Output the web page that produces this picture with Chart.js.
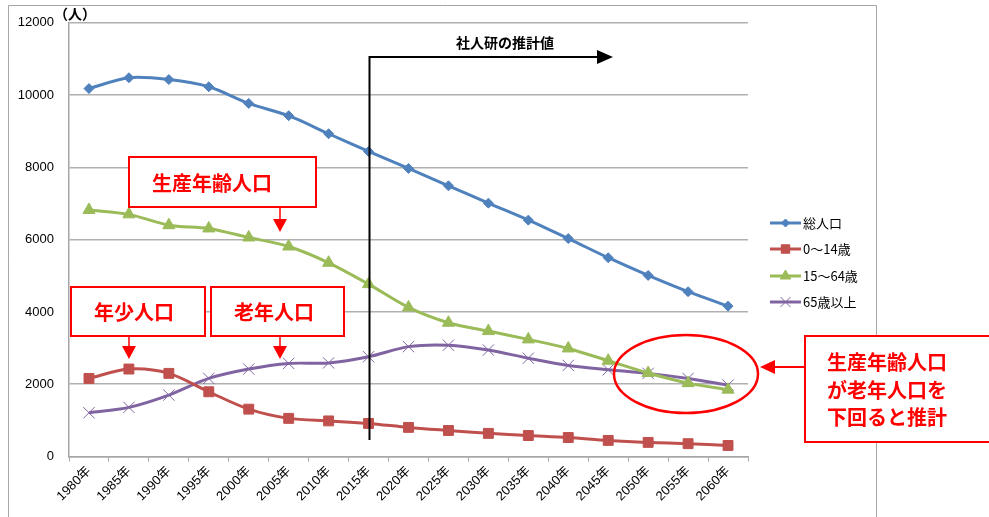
<!DOCTYPE html>
<html lang="ja">
<head>
<meta charset="UTF-8">
<title>人口推移と推計</title>
<script src="https://cdn.jsdelivr.net/npm/chart.js"></script>
<style>
    html, body { margin: 0; padding: 0; background: #fff; }
    #wrap { width: 989px; height: 517px; position: relative; }
</style>
</head>
<body>
<div id="wrap"><canvas id="popChart" width="989" height="517"></canvas></div>
<script>
// 年次
const years = ['1980年', '1985年', '1990年', '1995年', '2000年', '2005年', '2010年', '2015年', '2020年',
    '2025年', '2030年', '2035年', '2040年', '2045年', '2050年', '2055年', '2060年'];

// 人口（人）
const totalPop = [10180, 10480, 10430, 10230, 9770, 9430, 8930, 8440, 7970, 7490, 7010, 6540, 6030, 5500, 5010, 4560, 4160];
const youngPop = [2160, 2420, 2300, 1790, 1310, 1055, 985, 915, 805, 720, 640, 580, 525, 445, 390, 355, 305];
const workPop = [6820, 6700, 6400, 6310, 6060, 5810, 5360, 4770, 4125, 3700, 3470, 3240, 2990, 2650, 2310, 2030, 1850];
const elderPop = [1210, 1360, 1700, 2160, 2420, 2575, 2590, 2760, 3040, 3080, 2945, 2720, 2520, 2400, 2300, 2160, 1975];

const seriesNames = ['総人口', '0～14歳', '15～64歳', '65歳以上'];
const yTicks = [0, 2000, 4000, 6000, 8000, 10000, 12000];

const JP = '"Noto Sans CJK JP", sans-serif';
const NUM = '"Liberation Sans", "Noto Sans CJK JP", sans-serif';

function series(label, data, color, style, radius, pointBorder) {
    return {
        label: label,
        data: data,
        borderColor: color,
        backgroundColor: color,
        borderWidth: 3,
        tension: 0.3,
        pointStyle: style,
        pointRadius: radius,
        pointBackgroundColor: color,
        pointBorderColor: pointBorder || color,
        pointBorderWidth: 1
    };
}

// 枠線・注記・凡例
const annotations = {
    id: 'annotations',
    afterDraw(chart) {
        const ctx = chart.ctx;
        const x = chart.scales.x;
        ctx.save();

        // グラフ外枠
        ctx.strokeStyle = '#a6a6a6';
        ctx.lineWidth = 1;
        ctx.beginPath();
        ctx.moveTo(8.5, 517);
        ctx.lineTo(8.5, 5.5);
        ctx.lineTo(876.5, 5.5);
        ctx.lineTo(876.5, 517);
        ctx.stroke();

        // 単位
        ctx.fillStyle = '#000';
        ctx.font = 'bold 14px ' + JP;
        ctx.textAlign = 'left';
        ctx.textBaseline = 'middle';
        ctx.fillText('（人）', 54, 14);

        // 推計値の範囲
        const xs = Math.round(x.getPixelForValue(7)) + 0.5;
        ctx.strokeStyle = '#000';
        ctx.lineWidth = 2;
        ctx.beginPath();
        ctx.moveTo(xs, 440);
        ctx.lineTo(xs, 57);
        ctx.lineTo(598, 57);
        ctx.stroke();
        ctx.fillStyle = '#000';
        ctx.beginPath();
        ctx.moveTo(597, 50);
        ctx.lineTo(613, 57);
        ctx.lineTo(597, 64);
        ctx.closePath();
        ctx.fill();
        ctx.font = 'bold 14px ' + JP;
        ctx.textAlign = 'center';
        ctx.fillText('社人研の推計値', 505, 43);

        // 赤枠の吹き出し
        const red = '#ff0000';
        function box(l, t, r, b, lines, cx) {
            ctx.fillStyle = '#fff';
            ctx.fillRect(l, t, r - l, b - t);
            ctx.strokeStyle = red;
            ctx.lineWidth = 2;
            ctx.strokeRect(l, t, r - l, b - t);
            ctx.fillStyle = red;
            ctx.font = 'bold 20px ' + JP;
            ctx.textAlign = lines.length > 1 ? 'left' : 'center';
            ctx.textBaseline = 'middle';
            lines.forEach(function (s) { ctx.fillText(s[0], cx, s[1]); });
        }
        function downArrow(ax, y0, y1) {
            ctx.strokeStyle = red;
            ctx.fillStyle = red;
            ctx.lineWidth = 1.5;
            ctx.beginPath();
            ctx.moveTo(ax, y0);
            ctx.lineTo(ax, y1 - 10);
            ctx.stroke();
            ctx.beginPath();
            ctx.moveTo(ax - 7, y1 - 13);
            ctx.lineTo(ax + 7, y1 - 13);
            ctx.lineTo(ax, y1);
            ctx.closePath();
            ctx.fill();
        }
        box(129, 157, 316, 207, [['生産年齢人口', 183]], 212);
        downArrow(280, 207, 232);
        box(71, 287, 205, 336, [['年少人口', 312]], 134);
        downArrow(129, 336, 359);
        box(211, 287, 344, 336, [['老年人口', 312]], 274);
        downArrow(280, 336, 359);

        // 逆転箇所の楕円
        ctx.strokeStyle = red;
        ctx.lineWidth = 2.5;
        ctx.beginPath();
        ctx.ellipse(686, 374, 72, 39, 0, 0, Math.PI * 2);
        ctx.stroke();

        box(805, 336, 990, 442, [['生産年齢人口', 362], ['が老年人口を', 390], ['下回ると推計', 417]], 827);
        ctx.strokeStyle = red;
        ctx.fillStyle = red;
        ctx.lineWidth = 2;
        ctx.beginPath();
        ctx.moveTo(805, 367);
        ctx.lineTo(772, 367);
        ctx.stroke();
        ctx.beginPath();
        ctx.moveTo(775, 360);
        ctx.lineTo(775, 374);
        ctx.lineTo(760, 367);
        ctx.closePath();
        ctx.fill();

        // 凡例
        const ly = [223, 249, 276, 302];
        chart.data.datasets.forEach(function (ds, i) {
            const y = ly[i];
            ctx.strokeStyle = ds.borderColor;
            ctx.lineWidth = 3;
            ctx.beginPath();
            ctx.moveTo(770, y);
            ctx.lineTo(801, y);
            ctx.stroke();
            ctx.fillStyle = ds.pointBackgroundColor;
            ctx.strokeStyle = ds.pointBorderColor;
            ctx.lineWidth = 1;
            Chart.helpers.drawPoint(ctx, { pointStyle: ds.pointStyle, radius: ds.pointRadius - 1, borderWidth: 1, rotation: 0 }, 785.5, y);
            ctx.fillStyle = '#000';
            ctx.font = '13px ' + JP;
            ctx.textAlign = 'left';
            ctx.textBaseline = 'middle';
            ctx.fillText(ds.label, 803, y);
        });

        ctx.restore();
    }
};

new Chart(document.getElementById('popChart'), {
    type: 'line',
    data: {
        labels: years,
        datasets: [
            series(seriesNames[0], totalPop, '#4f81bd', 'rectRot', 5),
            series(seriesNames[1], youngPop, '#c0504d', 'rect', 7),
            series(seriesNames[2], workPop, '#9bbb59', 'triangle', 7),
            series(seriesNames[3], elderPop, '#8064a2', 'crossRot', 8, '#8064a2')
        ]
    },
    options: {
        responsive: false,
        animation: false,
        layout: { padding: { left: 0, right: 241, top: 22, bottom: 0 } },
        plugins: {
            legend: { display: false },
            tooltip: { enabled: false }
        },
        scales: {
            x: {
                offset: true,
                grid: { offset: true, drawOnChartArea: false, drawTicks: true, tickLength: 5, color: '#a6a6a6' },
                border: { color: '#a6a6a6', width: 1.5 },
                ticks: {
                    font: { family: NUM, size: 13 },
                    color: '#000',
                    minRotation: 45,
                    maxRotation: 45,
                    padding: 2
                },
                afterFit(scale) { scale.height = 60.5; }
            },
            y: {
                min: 0,
                max: 12000,
                afterBuildTicks(scale) { scale.ticks = yTicks.map(v => ({ value: v })); },
                grid: { color: '#b0b0b0', lineWidth: 1.5, drawTicks: false },
                border: { color: '#a6a6a6', width: 1.5 },
                ticks: {
                    font: { family: NUM, size: 13 },
                    color: '#000',
                    padding: 15,
                    callback: v => String(v)
                },
                afterFit(scale) { scale.width = 69; }
            }
        }
    },
    plugins: [annotations]
});
</script>
</body>
</html>
